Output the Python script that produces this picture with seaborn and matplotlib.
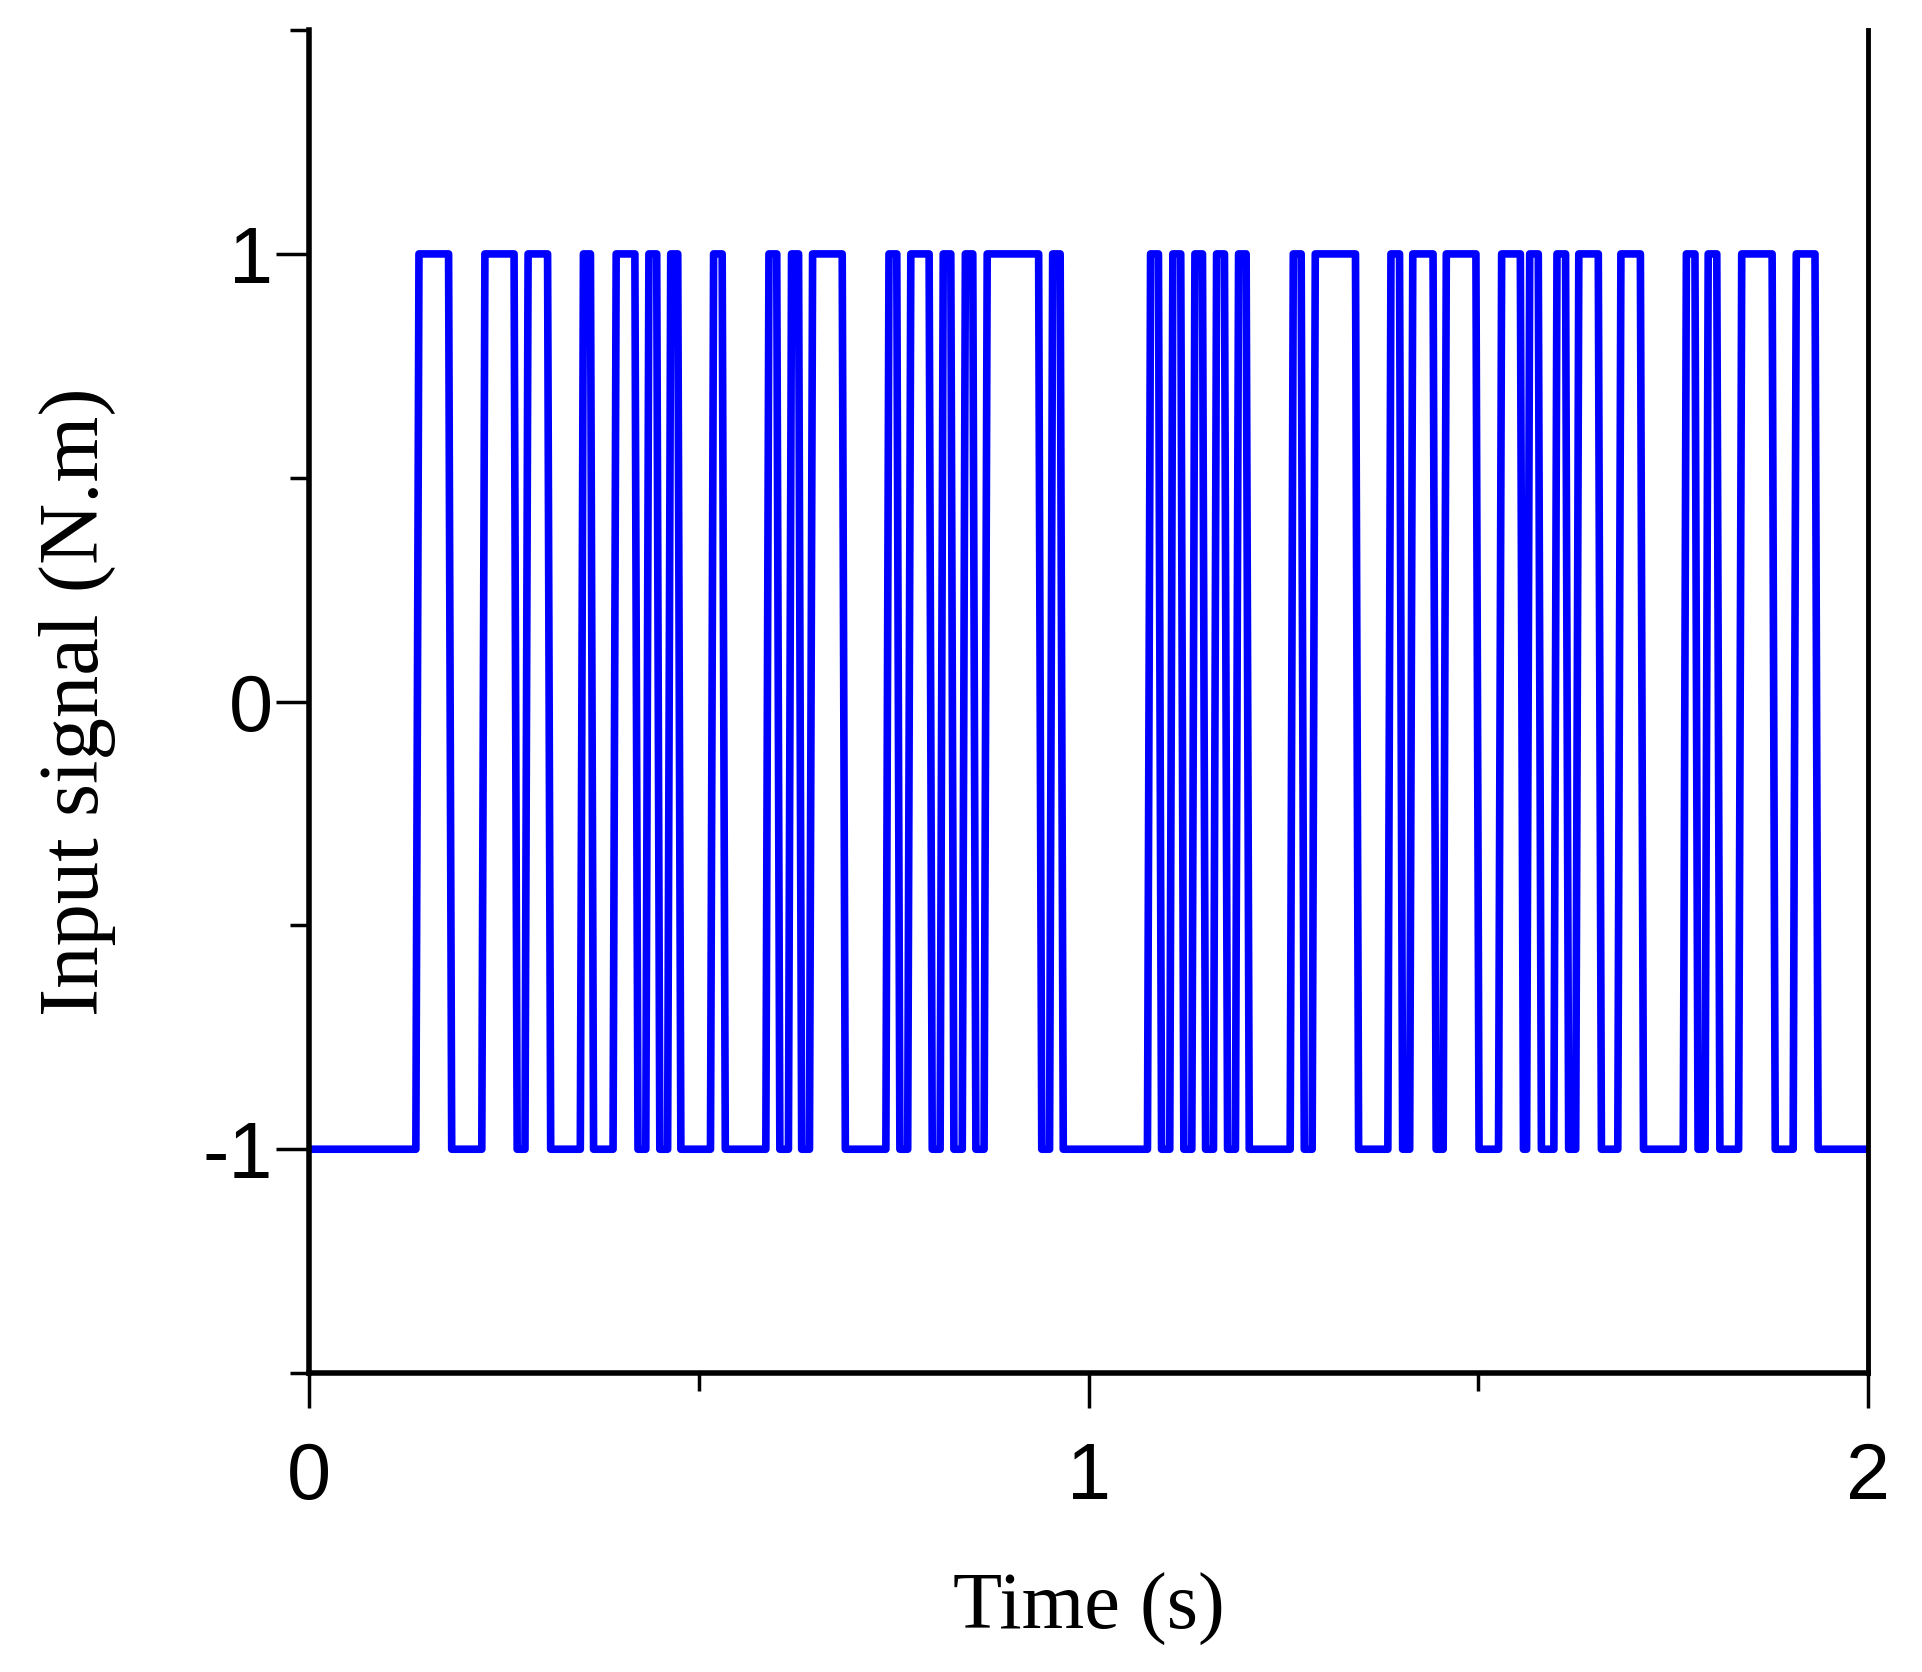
import numpy as np
import pandas as pd
import matplotlib.pyplot as plt
import seaborn as sns
from matplotlib.ticker import FixedLocator

# switching instants of the +/-1 input (read at the zero crossings), signal starts at -1
switch_times = [
    0.139, 0.181, 0.2236, 0.265, 0.279, 0.308, 0.350, 0.363, 0.392, 0.420,
    0.434, 0.448, 0.462, 0.475, 0.517, 0.532, 0.588, 0.602, 0.617, 0.630,
    0.644, 0.686, 0.742, 0.756, 0.770, 0.7975, 0.8116, 0.8253, 0.840, 0.8535,
    0.868, 0.938, 0.952, 0.9656, 1.0776, 1.0917, 1.1062, 1.1203, 1.1345, 1.1482,
    1.1623, 1.1764, 1.1905, 1.2042, 1.2607, 1.2748, 1.2889, 1.3445, 1.386, 1.401,
    1.414, 1.444, 1.457, 1.499, 1.528, 1.556, 1.564, 1.579, 1.599, 1.614,
    1.627, 1.656, 1.681, 1.710, 1.765, 1.780, 1.793, 1.808, 1.836, 1.879,
    1.906, 1.934,
]
level_start = -1
t_start, t_end = 0.0, 2.0

x_major = [0, 1, 2]
x_minor = [0.5, 1.5]
y_major = [-1, 0, 1]
y_minor = [-1.5, -0.5, 0.5, 1.5]
y_ticklabels = ["-1", "0", "1"]

edge_width = 0.004  # sampled edges are drawn as short ramps

# polyline of the square wave
t_pts = [t_start]
y_pts = [level_start]
level = level_start
for ts in switch_times:
    t_pts += [ts - edge_width / 2, ts + edge_width / 2]
    y_pts += [level, -level]
    level = -level
t_pts.append(t_end)
y_pts.append(level)
df = pd.DataFrame({"Time": t_pts, "Input": y_pts})

sns.set_style("ticks")
plt.rcParams.update({
    "axes.unicode_minus": False,
    "text.color": "black",
    "axes.labelcolor": "black",
    "axes.edgecolor": "black",
    "xtick.color": "black",
    "ytick.color": "black",
})

fig = plt.figure(figsize=(19.22, 16.72), dpi=100)
ax = fig.add_axes([0.1608, 0.1788, 0.8111, 0.8032])

sns.lineplot(data=df, x="Time", y="Input", sort=False, estimator=None,
             color="#0000ff", lw=5.5, ax=ax)

ax.set_xlim(0, 2)
ax.set_ylim(-1.5, 1.5)

ax.xaxis.set_major_locator(FixedLocator(x_major))
ax.xaxis.set_minor_locator(FixedLocator(x_minor))
ax.yaxis.set_major_locator(FixedLocator(y_major))
ax.yaxis.set_minor_locator(FixedLocator(y_minor))
ax.set_xticklabels([str(v) for v in x_major])
ax.set_yticklabels(y_ticklabels)

ax.tick_params(axis="x", which="major", direction="out", length=25, width=2.5, pad=24)
ax.tick_params(axis="x", which="minor", direction="out", length=13, width=2.5)
ax.tick_params(axis="y", which="major", direction="out", length=24, width=2.5, pad=2)
ax.tick_params(axis="y", which="minor", direction="out", length=14, width=2.5)

for lab in ax.get_xticklabels() + ax.get_yticklabels():
    lab.set_family(["Liberation Sans", "DejaVu Sans"])
    lab.set_fontsize(57)
    lab.set_color("black")

for side in ["left", "bottom"]:
    ax.spines[side].set_linewidth(4)
ax.spines["right"].set_linewidth(3.5)
ax.spines["top"].set_visible(False)

ax.set_xlabel("Time (s)", family=["Liberation Serif", "DejaVu Serif"], fontsize=58, color="black")
ax.set_ylabel("Input signal (N.m)", family=["Liberation Serif", "DejaVu Serif"], fontsize=61, color="black")
ax.xaxis.set_label_coords(0.5, -0.149)
ax.yaxis.set_label_coords(-0.124, 0.5)

fig.savefig("out.png", dpi=100)
